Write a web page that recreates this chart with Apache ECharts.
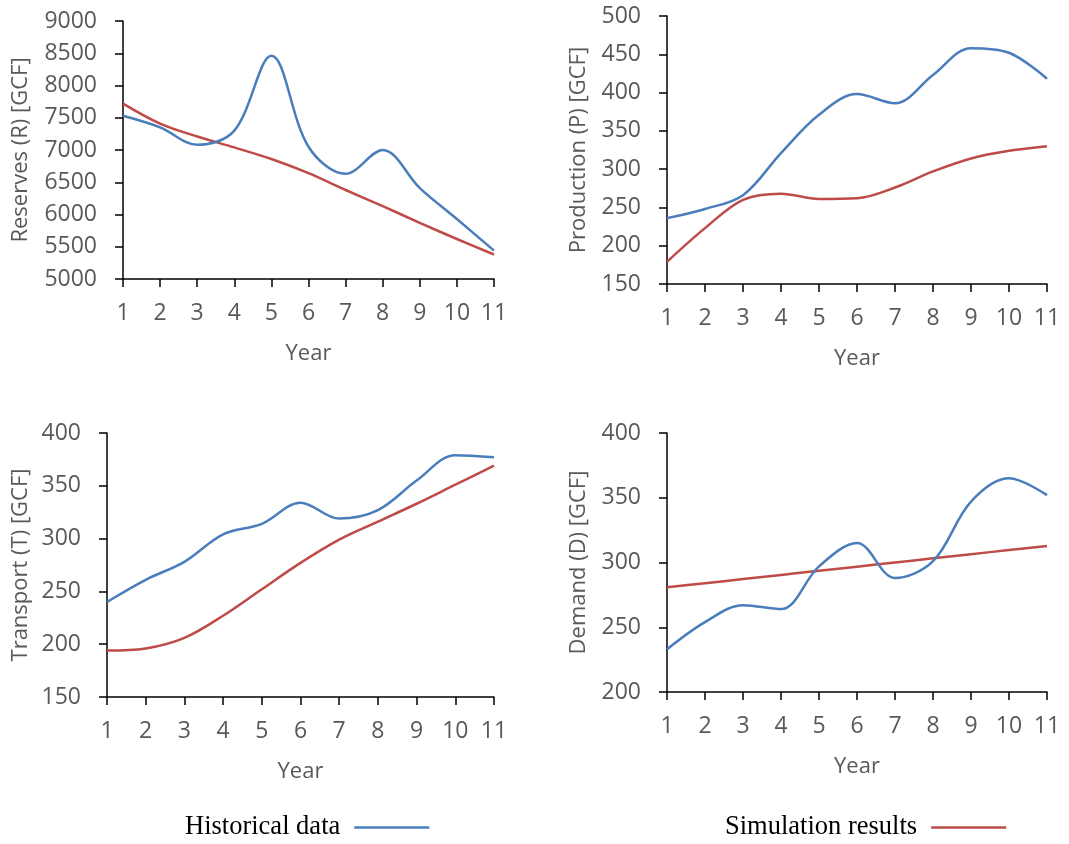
<!DOCTYPE html>
<html>
<head>
<meta charset="utf-8">
<title>Gas system: historical data vs simulation</title>
<script src="https://cdn.jsdelivr.net/npm/echarts@6/dist/echarts.min.js"></script>
<style>
  html, body { margin: 0; padding: 0; background: #ffffff; }
  #chart { width: 1069px; height: 844px; }
</style>
</head>
<body>
<div id="chart"></div>
<script>
// Years on every horizontal axis
const years = ['1', '2', '3', '4', '5', '6', '7', '8', '9', '10', '11'];

// Reserves (R) [GCF]
const reservesHistorical = [7530, 7350, 7080, 7300, 8460, 7050, 6630, 7000, 6410, 5930, 5440];
const reservesSimulated  = [7720, 7410, 7210, 7040, 6860, 6640, 6380, 6130, 5870, 5620, 5380];

// Production (P) [GCF]
const productionHistorical = [236, 248, 266, 321, 371, 398, 386, 423, 458, 452, 418];
const productionSimulated  = [179, 223, 260, 268, 261, 262, 276, 297, 314, 324, 330];

// Transport (T) [GCF]
const transportHistorical = [240, 261, 278, 304, 314, 334, 319, 327, 355, 379, 377];
const transportSimulated  = [194, 196, 206, 227, 252, 277, 299, 316, 333, 351, 369];

// Demand (D) [GCF]
const demandHistorical = [233, 254, 267, 264, 297, 315, 288, 301, 347, 365, 352];
const demandSimulated  = [280.8, 284.0, 287.2, 290.4, 293.6, 296.8, 300.0, 303.2, 306.4, 309.6, 312.7];

// Y-axis ranges: [min, max, interval]
const reservesRange   = [5000, 9000, 500];
const productionRange = [150, 500, 50];
const transportRange  = [150, 400, 50];
const demandRange     = [200, 400, 50];

const HIST_NAME = 'Historical data';
const SIM_NAME = 'Simulation results';
const HIST_COLOR = '#4A7EBB';
const SIM_COLOR = '#BE4B48';

const LABEL_FONT = '"Open Sans", "DejaVu Sans", sans-serif';
const LABEL_COLOR = '#595959';

const panels = [
  { title: 'Reserves (R) [GCF]',   range: reservesRange,   hist: reservesHistorical,   sim: reservesSimulated,
    grid: { left: 123, top: 21, width: 371, height: 258 }, nameGap: 91 },
  { title: 'Production (P) [GCF]', range: productionRange, hist: productionHistorical, sim: productionSimulated,
    grid: { left: 667, top: 16, width: 380, height: 268 }, nameGap: 77 },
  { title: 'Transport (T) [GCF]',  range: transportRange,  hist: transportHistorical,  sim: transportSimulated,
    grid: { left: 107, top: 433, width: 387, height: 264 }, nameGap: 75 },
  { title: 'Demand (D) [GCF]',     range: demandRange,     hist: demandHistorical,     sim: demandSimulated,
    grid: { left: 667, top: 433, width: 380, height: 259 }, nameGap: 77 }
];

const axisLine = { show: true, lineStyle: { color: '#000000', width: 1.5 } };
const axisTick = { show: true, inside: false, length: 8, lineStyle: { color: '#000000', width: 1.5 } };
const nameText = { fontFamily: LABEL_FONT, fontSize: 22, color: LABEL_COLOR };
const tickText = { fontFamily: LABEL_FONT, fontSize: 23, color: LABEL_COLOR };

const grids = [], xAxes = [], yAxes = [], series = [];

panels.forEach((p, i) => {
  grids.push(Object.assign({ containLabel: false }, p.grid));
  xAxes.push({
    type: 'category',
    gridIndex: i,
    data: years,
    boundaryGap: false,
    name: 'Year',
    nameLocation: 'middle',
    nameGap: 64,
    nameTextStyle: nameText,
    axisLine: axisLine,
    axisTick: Object.assign({ alignWithLabel: true, interval: 0 }, axisTick),
    axisLabel: Object.assign({ margin: 23, interval: 0 }, tickText),
    splitLine: { show: false }
  });
  yAxes.push({
    type: 'value',
    gridIndex: i,
    min: p.range[0],
    max: p.range[1],
    interval: p.range[2],
    name: p.title,
    nameLocation: 'middle',
    nameGap: p.nameGap,
    nameTextStyle: nameText,
    axisLine: axisLine,
    axisTick: axisTick,
    axisLabel: Object.assign({ margin: 26, formatter: (v) => String(v) }, tickText),
    splitLine: { show: false }
  });
  series.push({
    name: HIST_NAME, type: 'line', xAxisIndex: i, yAxisIndex: i,
    data: p.hist, smooth: 0.35, showSymbol: false,
    lineStyle: { color: HIST_COLOR, width: 2.5 }, itemStyle: { color: HIST_COLOR },
    z: 3
  });
  series.push({
    name: SIM_NAME, type: 'line', xAxisIndex: i, yAxisIndex: i,
    data: p.sim, smooth: 0.35, showSymbol: false,
    lineStyle: { color: SIM_COLOR, width: 2.5 }, itemStyle: { color: SIM_COLOR },
    z: 2
  });
});

const legendBase = {
  orient: 'horizontal',
  align: 'right',
  icon: 'rect',
  itemWidth: 75,
  itemHeight: 2.5,
  padding: 0,
  top: 814,
  textStyle: {
    fontFamily: '"Liberation Serif", "Times New Roman", serif',
    fontSize: 26.5,
    lineHeight: 26,
    color: '#000000',
    padding: [0, 9, 0, 0]
  }
};

const chart = echarts.init(document.getElementById('chart'), null, { renderer: 'canvas' });
chart.setOption({
  animation: false,
  backgroundColor: '#ffffff',
  grid: grids,
  xAxis: xAxes,
  yAxis: yAxes,
  legend: [
    Object.assign({}, legendBase, { left: 185, data: [{ name: HIST_NAME, itemStyle: { color: HIST_COLOR } }] }),
    Object.assign({}, legendBase, { left: 725, data: [{ name: SIM_NAME, itemStyle: { color: SIM_COLOR } }] })
  ],
  series: series
});
</script>
</body>
</html>
